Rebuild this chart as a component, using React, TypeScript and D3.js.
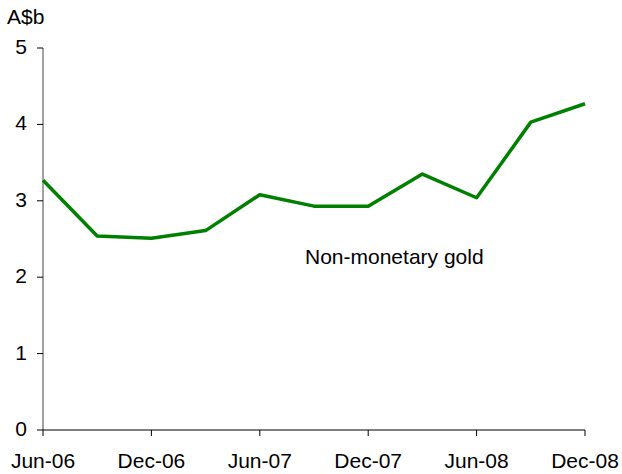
import React from 'react';
import * as d3 from 'd3';

// quarterly observations, A$ billion
const quarters = [
  'Jun-06', 'Sep-06', 'Dec-06', 'Mar-07', 'Jun-07', 'Sep-07',
  'Dec-07', 'Mar-08', 'Jun-08', 'Sep-08', 'Dec-08',
];
const goldValues = [3.27, 2.54, 2.51, 2.61, 3.08, 2.93, 2.93, 3.35, 3.04, 4.03, 4.27];
const tickLabels = ['Jun-06', 'Dec-06', 'Jun-07', 'Dec-07', 'Jun-08', 'Dec-08'];
const yTicks = [0, 1, 2, 3, 4, 5];

const width = 622;
const height = 474;
const margin = { top: 48, right: 37, bottom: 44, left: 43 };
const font = 'Arial, "Liberation Sans", Helvetica, sans-serif';
const fs = 21;

const App = () => {
  const x = d3.scalePoint()
    .domain(quarters)
    .range([margin.left, width - margin.right]);

  const y = d3.scaleLinear()
    .domain([0, 5])
    .range([height - margin.bottom, margin.top]);

  const line = d3.line<number>()
    .x((_, i) => x(quarters[i]) as number)
    .y(d => y(d));

  const x0 = margin.left;
  const y0 = y(0);

  return (
    <svg
      width={width}
      height={height}
      style={{ position: 'absolute', left: 0, top: 0, background: '#fff' }}
      fontFamily={font}
    >
      {/* unit label */}
      <text x={7} y={24} fontSize={fs} fill="#000">A$b</text>

      {/* y axis */}
      <line x1={x0} x2={x0} y1={y(5)} y2={y0} stroke="#444" strokeWidth={1} />
      {yTicks.map(t => (
        <g key={t}>
          <line x1={x0 - 6} x2={x0} y1={y(t)} y2={y(t)} stroke="#000" strokeWidth={1} />
          <text x={27} y={y(t) + 6} textAnchor="end" fontSize={fs} fill="#000">{t}</text>
        </g>
      ))}

      {/* x axis */}
      <line x1={x0} x2={width - margin.right} y1={y0} y2={y0} stroke="#000" strokeWidth={1} />
      {tickLabels.map(t => (
        <g key={t}>
          <line x1={x(t)} x2={x(t)} y1={y0} y2={y0 + 6} stroke="#000" strokeWidth={1} />
          <text x={x(t)} y={468} textAnchor="middle" fontSize={fs} fill="#000">{t}</text>
        </g>
      ))}

      {/* series */}
      <path d={line(goldValues) ?? ''} fill="none" stroke="#008000" strokeWidth={3.5} strokeLinejoin="round" />

      <text x={305} y={264} fontSize={fs} fill="#000">Non-monetary gold</text>
    </svg>
  );
};

export default App;
